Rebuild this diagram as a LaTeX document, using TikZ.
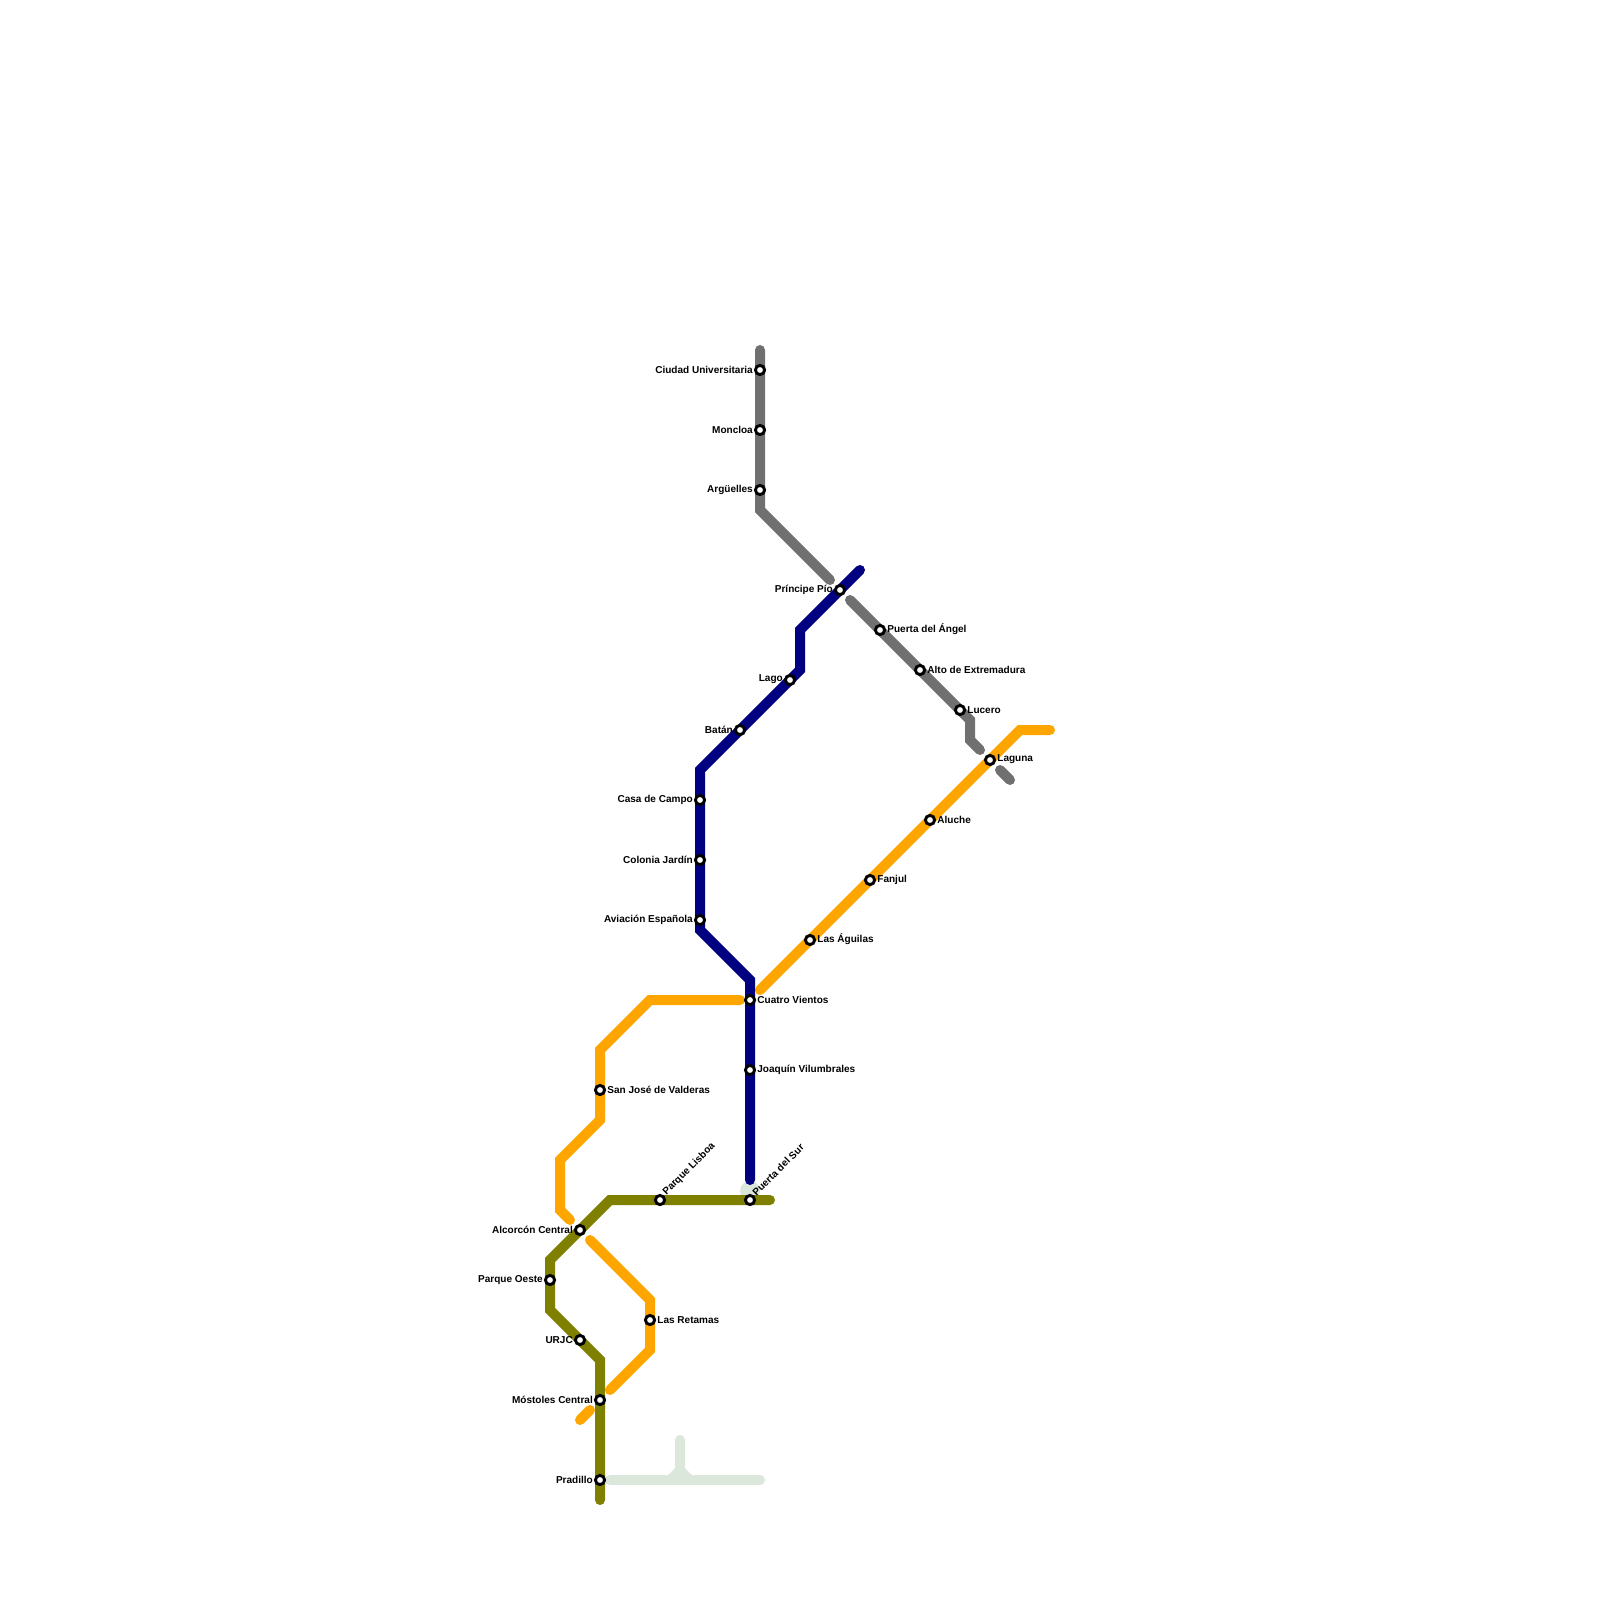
\documentclass[tikz,border=0pt]{standalone}
\usepackage{fontspec}
\setmainfont{Liberation Sans}
\begin{document}
\begin{tikzpicture}[x=0.01cm,y=-0.01cm,
  metro/.style={line width=1mm,line cap=round,line join=miter},
  pale/.style={metro,draw=paleline},
  stn/.style={circle,draw=black,fill=white,line width=0.29mm,minimum size=0.92mm,inner sep=0pt},
  lbl/.style={font=\bfseries\fontsize{2.85}{3.2}\selectfont,text=black,inner sep=0pt}]
\definecolor{paleline}{HTML}{DBE7DA}
\definecolor{orangeline}{HTML}{FFA500}
\definecolor{oliveline}{HTML}{808000}
\definecolor{navyline}{HTML}{000080}
\definecolor{greyline}{HTML}{707070}
\useasboundingbox (0,0) rectangle (1600,1600);
% station coordinates
\foreach \n/\x/\y in {cu/760/370,mo/760/430,ar/760/490,pp/840/590,pa/880/630,ae/920/670,lu/960/710,la/990/760,al/930/820,fa/870/880,ag/810/940,cv/750/1000,jv/750/1070,sj/600/1090,lr/650/1320,lg/790/680,ba/740/730,cc/700/800,cj/700/860,av/700/920,pl/660/1200,ps/750/1200,ac/580/1230,po/550/1280,ur/580/1340,mc/600/1400,pr/600/1480}
  {\coordinate (c\n) at (\x,\y);}
% pale line
\fill[paleline] (663,1480) -- (680,1463) -- (697,1480) -- cycle;
\draw[pale] (610,1480) -- (760,1480);
\draw[pale] (680,1440) -- (680,1480);
\fill[paleline] (750,1191) circle (10);
% grey
\draw[metro,greyline] (760,350) -- (760,510) -- (830,580);
\draw[metro,greyline] (850,600) -- (970,720) -- (970,740) -- (980,750);
\draw[metro,greyline] (1000,770) -- (1010,780);
% orange
\draw[metro,orangeline] (740,1000) -- (650,1000) -- (600,1050) -- (600,1120) -- (560,1160) -- (560,1210) -- (570,1220);
\draw[metro,orangeline] (590,1240) -- (650,1300) -- (650,1350) -- (610,1390);
\draw[metro,orangeline] (590,1410) -- (580,1420);
\draw[metro,orangeline] (760,990) -- (1020,730) -- (1050,730);
% navy
\draw[metro,navyline] (750,1180) -- (750,980) -- (700,930) -- (700,770) -- (800,670) -- (800,630) -- (860,570);
% olive
\draw[metro,oliveline] (770,1200) -- (610,1200) -- (550,1260) -- (550,1310) -- (600,1360) -- (600,1500);
% stations
\foreach \n in {cu,mo,ar,pp,pa,ae,lu,la,al,fa,ag,cv,jv,sj,lr,lg,ba,cc,cj,av,pl,ps,ac,po,ur,mc,pr}
  {\node[stn] (\n) at (c\n) {};}
% labels left
\foreach \n/\t in {cu/Ciudad Universitaria,mo/Moncloa,ar/Argüelles,pp/Príncipe Pío,lg/Lago,ba/Batán,cc/Casa de Campo,cj/Colonia Jardín,av/Aviación Española,ac/Alcorcón Central,po/Parque Oeste,ur/URJC,mc/Móstoles Central,pr/Pradillo}
  {\node[lbl,anchor=east] (t\n) at ([xshift=-0.65mm,yshift=0.04mm]c\n) {\t};}
% labels right
\foreach \n/\t in {pa/Puerta del Ángel,ae/Alto de Extremadura,lu/Lucero,la/Laguna,al/Aluche,fa/Fanjul,ag/Las Águilas,cv/Cuatro Vientos,jv/Joaquín Vilumbrales,sj/San José de Valderas,lr/Las Retamas}
  {\node[lbl,anchor=west] (t\n) at ([xshift=0.67mm,yshift=0.04mm]c\n) {\t};}
% rotated labels
\node[lbl,anchor=west,rotate=45] (tpl) at ([xshift=0.42mm,yshift=0.58mm]cpl) {Parque Lisboa};
\node[lbl,anchor=west,rotate=45] (tps) at ([xshift=0.36mm,yshift=0.58mm]cps) {Puerta del Sur};
\end{tikzpicture}
\end{document}
